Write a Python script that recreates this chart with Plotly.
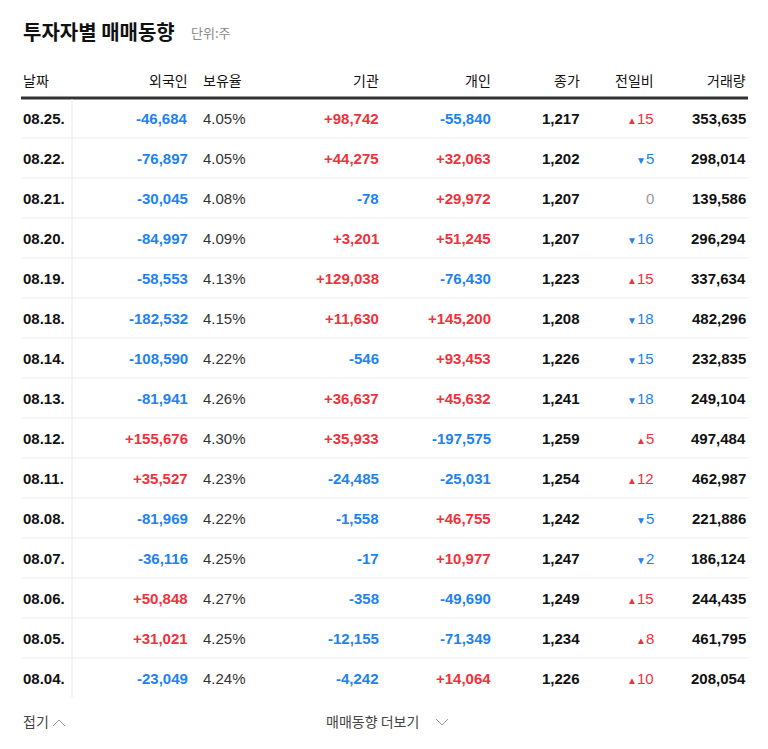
import plotly.graph_objects as go

dates = ["08.25.", "08.22.", "08.21.", "08.20.", "08.19.", "08.18.", "08.14.", "08.13.",
         "08.12.", "08.11.", "08.08.", "08.07.", "08.06.", "08.05.", "08.04."]
foreign = [-46684, -76897, -30045, -84997, -58553, -182532, -108590, -81941,
           155676, 35527, -81969, -36116, 50848, 31021, -23049]
holding = [4.05, 4.05, 4.08, 4.09, 4.13, 4.15, 4.22, 4.26, 4.30, 4.23, 4.22, 4.25, 4.27, 4.25, 4.24]
inst = [98742, 44275, -78, 3201, 129038, 11630, -546, 36637, 35933, -24485, -1558, -17, -358, -12155, -4242]
indiv = [-55840, 32063, 29972, 51245, -76430, 145200, 93453, 45632, -197575, -25031, 46755, 10977, -49690, -71349, 14064]
close = [1217, 1202, 1207, 1207, 1223, 1208, 1226, 1241, 1259, 1254, 1242, 1247, 1249, 1234, 1226]
change = [15, -5, 0, -16, 15, -18, -15, -18, 5, 12, -5, -2, 15, 8, 10]
volume = [353635, 298014, 139586, 296294, 337634, 482296, 232835, 249104, 497484, 462987, 221886, 186124, 244435, 461795, 208054]
headers = ["날짜", "외국인", "보유율", "기관", "개인", "종가", "전일비", "거래량"]

RED, BLUE, DARK, GREY = "#f0323c", "#1e82f0", "#111111", "#999999"
FONT = "Liberation Sans, Noto Sans CJK KR, sans-serif"
KFONT = "Noto Sans CJK KR, sans-serif"

def signed(v):
    if v > 0:
        return f"<b>+{v:,}</b>", RED
    if v < 0:
        return f"<b>{v:,}</b>", BLUE
    return "0", GREY

fig = go.Figure()
ann, shapes = [], []

def txt(x, y, s, color=DARK, size=15, anchor="right", family=FONT):
    ann.append(dict(x=x, y=y, text=s, showarrow=False, xanchor=anchor, yanchor="middle",
                    font=dict(color=color, size=size, family=family)))

txt(21, 31, "<b>투자자별 매매동향</b>", size=20, anchor="left", family=KFONT)
txt(189, 32, "단위:주", color="#888888", size=13, anchor="left", family=KFONT)

hx = [(21, "left"), (190, "right"), (201, "left"), (381, "right"), (493, "right"),
      (582, "right"), (656, "right"), (748, "right")]
for (x, a), h in zip(hx, headers):
    txt(x, 80, h, size=14, anchor=a, family=KFONT)

shapes.append(dict(type="line", x0=21, x1=748, y0=98, y1=98, line=dict(color="#333333", width=3)))
shapes.append(dict(type="line", x0=72, x1=72, y0=99, y1=698, line=dict(color="#e8e8e8", width=1)))

for i, d in enumerate(dates):
    y = 118 + 40 * i
    if i < len(dates) - 1:
        shapes.append(dict(type="line", x0=21, x1=748, y0=y + 20, y1=y + 20,
                           line=dict(color="#ebebeb", width=1)))
    txt(21, y, f"<b>{d}</b>", anchor="left")
    s, c = signed(foreign[i]); txt(190, y, s, c)
    txt(201, y, f"{holding[i]:.2f}%", "#333333", anchor="left")
    s, c = signed(inst[i]); txt(381, y, s, c)
    s, c = signed(indiv[i]); txt(493, y, s, c)
    txt(582, y, f"<b>{close[i]:,}</b>")
    ch = change[i]
    if ch > 0:
        s, c = f"<span style='font-size:10px'>▲</span>{ch}", RED
    elif ch < 0:
        s, c = f"<span style='font-size:10px'>▼</span>{-ch}", BLUE
    else:
        s, c = "0", GREY
    txt(656, y, s, c)
    txt(748, y, f"<b>{volume[i]:,}</b>")

txt(21, 721, "접기", "#444444", size=14, anchor="left", family=KFONT)
shapes.append(dict(type="path", path="M 53 726 L 59 720 L 65 726", line=dict(color="#999999", width=1)))
txt(324, 721, "매매동향 더보기", "#444444", size=14, anchor="left", family=KFONT)
shapes.append(dict(type="path", path="M 436 719 L 442 725 L 448 719", line=dict(color="#999999", width=1)))

# page body adds an ~8px offset, so shift the coordinate window to compensate
fig.update_layout(
    width=768, height=749, margin=dict(l=0, r=0, t=0, b=0),
    paper_bgcolor="white", plot_bgcolor="white", showlegend=False,
    xaxis=dict(range=[8, 776], visible=False, fixedrange=True),
    yaxis=dict(range=[757, 8], visible=False, fixedrange=True),
    annotations=ann, shapes=shapes,
)
fig.write_html("out.html", config={"displayModeBar": False})
